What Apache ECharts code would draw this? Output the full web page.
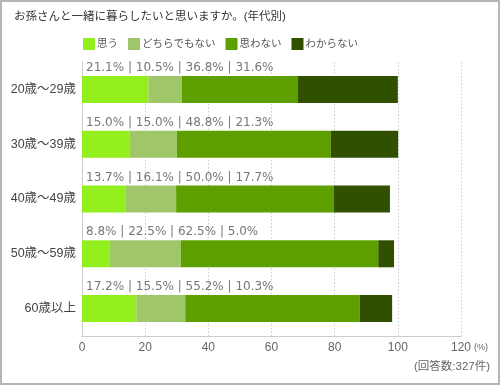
<!DOCTYPE html>
<html><head><meta charset="utf-8">
<script src="https://cdn.jsdelivr.net/npm/echarts@6/dist/echarts.min.js"></script>
<style>
html,body{margin:0;padding:0;background:#fff;}
#c{width:500px;height:385px;box-sizing:border-box;border:2px solid #b5b5b5;}
</style></head>
<body><div id="c"></div>
<script>
const categories = ['20歳〜29歳','30歳〜39歳','40歳〜49歳','50歳〜59歳','60歳以上'];
const seriesNames = ['思う','どちらでもない','思わない','わからない'];
const omou = [21.1, 15.0, 13.7, 8.8, 17.2];
const dochira = [10.5, 15.0, 16.1, 22.5, 15.5];
const omowanai = [36.8, 48.8, 50.0, 62.5, 55.2];
const wakaranai = [31.6, 21.3, 17.7, 5.0, 10.3];
const xTicks = [0, 20, 40, 60, 80, 100, 120];
const colors = ['#93ee1d','#a0c66a','#5e9f00','#305000'];
const values = [omou, dochira, omowanai, wakaranai];
const font = 'Arial,"Liberation Sans","Noto Sans CJK JP",sans-serif';
const labelFont = '"DejaVu Sans","Noto Sans CJK JP",sans-serif';

const chart = echarts.init(document.getElementById('c'), null, {renderer:'canvas'});
const series = values.map((arr, si) => ({
  name: seriesNames[si],
  type: 'bar',
  stack: 'total',
  barWidth: 27,
  data: arr,
  itemStyle: {color: colors[si]},
  emphasis: {disabled: true},
  label: si === 0 ? {
    show: true,
    position: [4, -8],
    align: 'left',
    verticalAlign: 'middle',
    color: '#777',
    fontSize: 12,
    fontFamily: labelFont,
    formatter: p => values.map(a => a[p.dataIndex].toFixed(1) + '%').join(' | ')
  } : {show: false}
}));

chart.setOption({
  animation: false,
  textStyle: {fontFamily: font},
  title: {
    text: 'お孫さんと一緒に暮らしたいと思いますか。(年代別)',
    left: 7, top: 4,
    textStyle: {fontSize: 11.5, fontWeight: 'normal', color: '#333', fontFamily: font}
  },
  legend: {
    left: 81, top: 36, padding: 0,
    itemWidth: 12, itemHeight: 12, itemGap: 10,
    icon: 'rect',
    data: seriesNames,
    textStyle: {fontSize: 10.5, color: '#555', fontFamily: font, padding: [0,0,0,-3]}
  },
  grid: {left: 80, right: 37, top: 60, bottom: 47, containLabel: false},
  xAxis: {
    type: 'value', min: xTicks[0], max: xTicks[xTicks.length-1], interval: 20,
    axisLine: {show: true, lineStyle: {color: '#ccc', width: 1}},
    axisTick: {show: false},
    axisLabel: {color: '#666', fontSize: 12, margin: 6, fontFamily: font},
    splitLine: {show: true, lineStyle: {color: '#ccc', type: [1.5, 2]}}
  },
  yAxis: {
    type: 'category', data: categories, inverse: true,
    axisLine: {show: true, lineStyle: {color: '#ccc'}},
    axisTick: {show: false},
    axisLabel: {color: '#444', fontSize: 12.5, margin: 6, fontFamily: font}
  },
  graphic: [
    {type: 'text', left: 472, top: 341, style: {text: '(%)', fontSize: 9, fill: '#666', fontFamily: font}},
    {type: 'text', right: 8, top: 359, style: {text: '(回答数:327件)', fontSize: 11.5, fill: '#666', fontFamily: font}}
  ],
  series: series
});
</script></body></html>
